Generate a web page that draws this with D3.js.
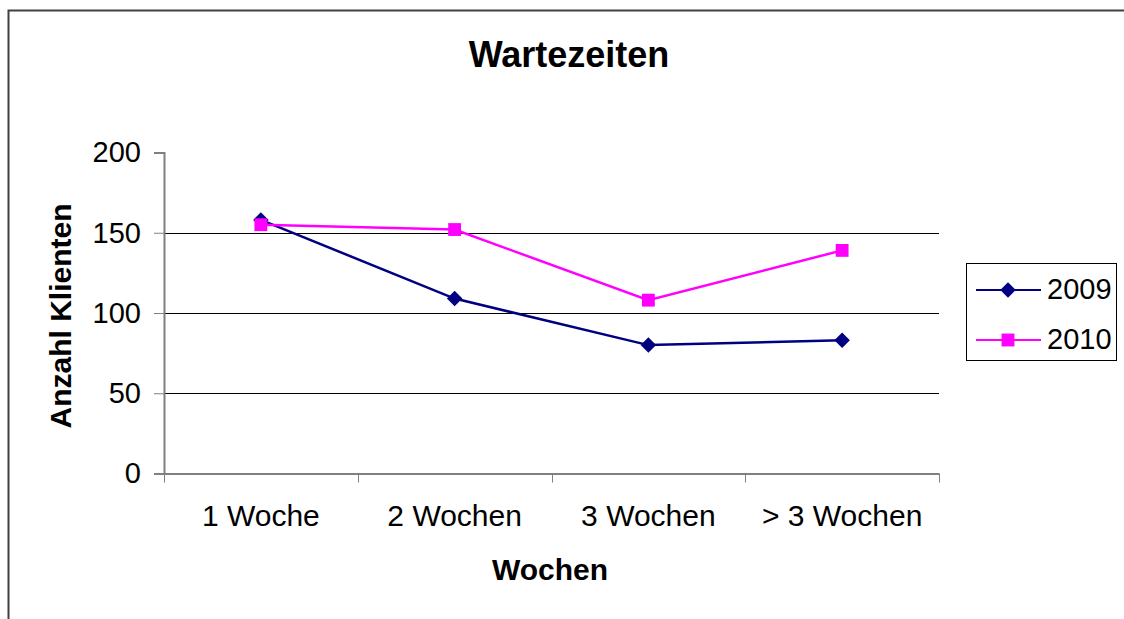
<!DOCTYPE html>
<html>
<head>
<meta charset="utf-8">
<script src="https://cdn.jsdelivr.net/npm/d3@7"></script>
<style>
  body { margin: 0; background: #fff; }
  svg { font-family: "Liberation Sans", Arial, sans-serif; }
</style>
</head>
<body>
<svg id="chart" width="1124" height="619"></svg>
<script>
var categories = ["1 Woche", "2 Wochen", "3 Wochen", "> 3 Wochen"];
var values2009 = [158, 109, 80, 83];
var values2010 = [155, 152, 108, 139];
var yTicks = [0, 50, 100, 150, 200];
var seriesNames = ["2009", "2010"];

var svg = d3.select("#chart");

// outer frame (right/bottom outside the picture)
svg.append("path")
    .attr("d", "M8.5,619 V10.5 H1124")
    .attr("fill", "none")
    .attr("stroke", "#404040")
    .attr("stroke-width", 2);

var plotLeft = 164, plotRight = 939, plotTop = 152.5, plotBottom = 473.5;

var x = d3.scaleBand().domain(categories).range([plotLeft, plotRight]);
var y = d3.scaleLinear().domain([0, 200]).range([plotBottom, plotTop]);

// gridlines
svg.append("g")
    .selectAll("line")
    .data(yTicks.filter(d => d > 0 && d < 200))
    .enter().append("line")
    .attr("x1", plotLeft).attr("x2", plotRight)
    .attr("y1", d => Math.round(y(d)) + 0.5)
    .attr("y2", d => Math.round(y(d)) + 0.5)
    .attr("stroke", "#000");

// y axis
var yAxis = svg.append("g")
    .attr("transform", "translate(" + plotLeft + ",0)")
    .call(d3.axisLeft(y).tickValues(yTicks).tickSize(10).tickPadding(13));
yAxis.select(".domain").attr("stroke", "#808080").attr("stroke-width", 2);
yAxis.selectAll(".tick line").attr("stroke", "#808080");
yAxis.selectAll("text").attr("font-size", 29).attr("fill", "#000");

// x axis with ticks at band edges
var xAxis = svg.append("g")
    .attr("transform", "translate(0," + plotBottom + ")")
    .call(d3.axisBottom(x).tickSize(0).tickPadding(31));
xAxis.select(".domain").attr("stroke", "#808080").attr("stroke-width", 2);
xAxis.selectAll("text").attr("font-size", 30).attr("fill", "#000");
xAxis.selectAll(".edge")
    .data(d3.range(categories.length + 1))
    .enter().append("line")
    .attr("class", "edge")
    .attr("x1", i => Math.round(plotLeft + i * x.step()) + 0.5)
    .attr("x2", i => Math.round(plotLeft + i * x.step()) + 0.5)
    .attr("y1", 0).attr("y2", 9)
    .attr("stroke", "#808080");

var line = d3.line()
    .x((d, i) => x(categories[i]) + x.bandwidth() / 2)
    .y(d => y(d));

// square diamond = square turned by 45 degrees
var diamond = { d: d3.symbol().type(d3.symbolSquare).size(120)(), rot: 45 };
var square = { d: d3.symbol().type(d3.symbolSquare).size(165)(), rot: 0 };

function drawSeries(vals, color, sym) {
    svg.append("path")
        .datum(vals)
        .attr("d", line)
        .attr("fill", "none")
        .attr("stroke", color)
        .attr("stroke-width", 2.5);
    svg.append("g")
        .selectAll("path")
        .data(vals)
        .enter().append("path")
        .attr("d", sym.d)
        .attr("transform", (d, i) => "translate(" + (x(categories[i]) + x.bandwidth() / 2) + "," + y(d) + ") rotate(" + sym.rot + ")")
        .attr("fill", color);
}
drawSeries(values2009, "#000080", diamond);
drawSeries(values2010, "#ff00ff", square);

// title + axis titles
svg.append("text")
    .attr("x", 569).attr("y", 67)
    .attr("text-anchor", "middle")
    .attr("font-size", 36).attr("font-weight", "bold")
    .text("Wartezeiten");

svg.append("text")
    .attr("x", 550).attr("y", 580)
    .attr("text-anchor", "middle")
    .attr("font-size", 30).attr("font-weight", "bold")
    .text("Wochen");

svg.append("text")
    .attr("transform", "translate(71,316) rotate(-90)")
    .attr("text-anchor", "middle")
    .attr("font-size", 30).attr("font-weight", "bold")
    .text("Anzahl Klienten");

// legend
var legend = svg.append("g");
legend.append("rect")
    .attr("x", 966.5).attr("y", 263.5)
    .attr("width", 150).attr("height", 97)
    .attr("fill", "#fff").attr("stroke", "#000");

var legendItems = [
    { name: seriesNames[0], color: "#000080", sym: diamond },
    { name: seriesNames[1], color: "#ff00ff", sym: square }
];
legendItems.forEach(function(it, i) {
    var ly = 290 + i * 50;
    legend.append("line")
        .attr("x1", 976).attr("x2", 1041)
        .attr("y1", ly).attr("y2", ly)
        .attr("stroke", it.color).attr("stroke-width", 2);
    legend.append("path")
        .attr("d", it.sym.d)
        .attr("transform", "translate(1008," + ly + ") rotate(" + it.sym.rot + ")")
        .attr("fill", it.color);
    legend.append("text")
        .attr("x", 1047).attr("y", ly + 9)
        .attr("font-size", 29)
        .text(it.name);
});
</script>
</body>
</html>
